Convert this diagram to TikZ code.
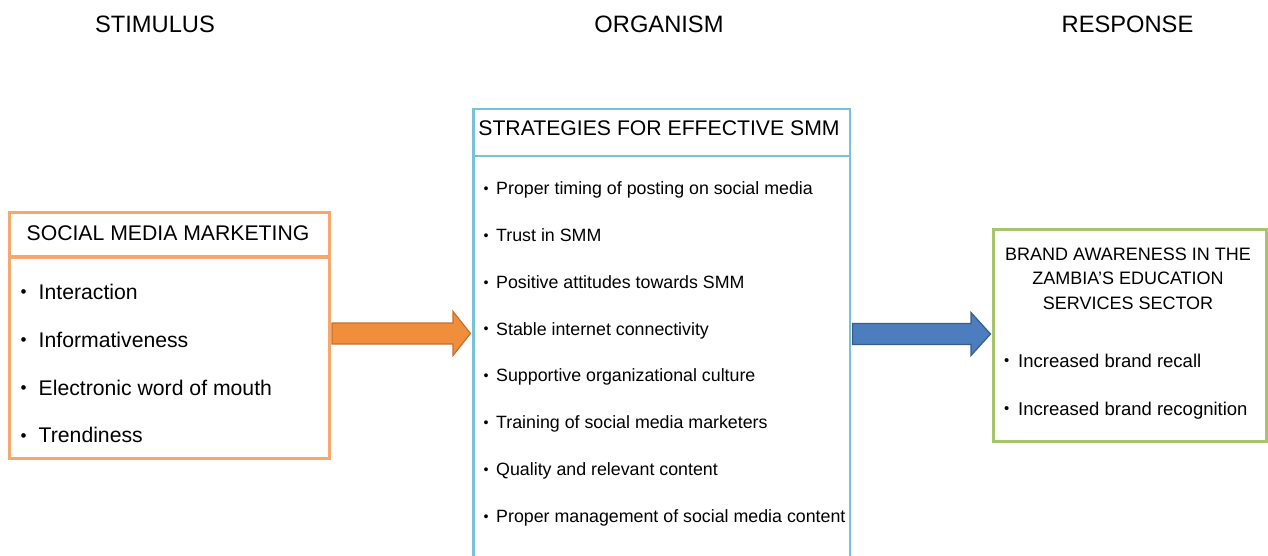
\documentclass[tikz,border=0pt]{standalone}
\usepackage{fontspec}
\setmainfont{Liberation Sans}
\usepackage{graphicx}
\usetikzlibrary{calc}

\definecolor{orangeline}{RGB}{246,168,108}
\definecolor{orangefill}{RGB}{240,142,60}
\definecolor{orangeedge}{RGB}{196,112,46}
\definecolor{blueline}{RGB}{120,194,216}
\definecolor{bluefill}{RGB}{76,125,190}
\definecolor{blueedge}{RGB}{56,93,138}
\definecolor{greenline}{RGB}{168,196,106}

% bullet glyph in a box of the given width, followed by the item text
\newcommand\bulleted[2]{\makebox[#1][l]{\raisebox{0.07em}{\scalebox{0.8}{•}}}#2}

\begin{document}
\begin{tikzpicture}[x=1pt,y=-1pt,
  colhead/.style={anchor=base,inner sep=0pt,font=\fontsize{23.7}{26}\selectfont},
  boxpart/.style={draw,line width=2.9pt,anchor=north west,inner sep=0pt},
  lefttitle/.style={anchor=base,inner sep=0pt,font=\fontsize{21.2}{24}\selectfont},
  leftitem/.style={anchor=base west,inner sep=0pt,font=\fontsize{21.2}{24}\selectfont},
  miditem/.style={anchor=base west,inner sep=0pt,font=\fontsize{17.8}{20}\selectfont},
  righttitle/.style={anchor=base,inner sep=0pt,font=\fontsize{18}{20}\selectfont},
  rightitem/.style={anchor=base west,inner sep=0pt,font=\fontsize{18.5}{20}\selectfont},
  fatarrow/.style={line width=1.2pt,line join=miter}
]
\useasboundingbox (0,0) rectangle (1268,555);

% column headings
\node[colhead] (stim) at (155,32) {STIMULUS};
\node[colhead] (org)  at (659,32) {ORGANISM};
\node[colhead] (resp) at (1127.5,32) {RESPONSE};

% stimulus box
\node[boxpart,draw=orangeline,minimum width=320pt,minimum height=44pt] (smmh) at (8,211) {};
\node[boxpart,draw=orangeline,minimum width=320pt,minimum height=201pt] (smmb) at (8,256) {};
\node[lefttitle] (smmt) at (168,240) {SOCIAL MEDIA MARKETING};
\node[leftitem] (s1) at (20.5,299) {\bulleted{18pt}{Interaction}};
\node[leftitem] (s2) at (20.5,347) {\bulleted{18pt}{Informativeness}};
\node[leftitem] (s3) at (20.5,395) {\bulleted{18pt}{Electronic word of mouth}};
\node[leftitem] (s4) at (20.5,442.5) {\bulleted{18pt}{Trendiness}};

% organism box (runs past the lower edge)
\node[boxpart,draw=blueline,minimum width=376.5pt,minimum height=47pt] (strh) at (472,107.5) {};
\node[boxpart,draw=blueline,minimum width=376.5pt,minimum height=430pt] (strb) at (472,154.5) {};
\node[lefttitle] (strt) at (659,135) {STRATEGIES FOR EFFECTIVE SMM};
\node[miditem] (m1) at (483.5,194.7) {\bulleted{12.5pt}{Proper timing of posting on social media}};
\node[miditem] (m2) at (483.5,241.5) {\bulleted{12.5pt}{Trust in SMM}};
\node[miditem] (m3) at (483.5,288.3) {\bulleted{12.5pt}{Positive attitudes towards SMM}};
\node[miditem] (m4) at (483.5,335.1) {\bulleted{12.5pt}{Stable internet connectivity}};
\node[miditem] (m5) at (483.5,381.9) {\bulleted{12.5pt}{Supportive organizational culture}};
\node[miditem] (m6) at (483.5,428.7) {\bulleted{12.5pt}{Training of social media marketers}};
\node[miditem] (m7) at (483.5,475.5) {\bulleted{12.5pt}{Quality and relevant content}};
\node[miditem] (m8) at (483.5,522.3) {\bulleted{12.5pt}{Proper management of social media content}};

% response box
\node[boxpart,draw=greenline,minimum width=273pt,minimum height=212pt] (brand) at (992,228) {};
\node[righttitle] (rt1) at (1128,260) {BRAND AWARENESS IN THE};
\node[righttitle] (rt2) at (1128,284.5) {ZAMBIA’S EDUCATION};
\node[righttitle] (rt3) at (1128,309) {SERVICES SECTOR};
\node[rightitem] (r1) at (1004,367) {\bulleted{14pt}{Increased brand recall}};
\node[rightitem] (r2) at (1004,415) {\bulleted{14pt}{Increased brand recognition}};

% block arrows between the boxes
\coordinate (oa) at (smmb.east |- 0,333.5);
\coordinate (ob) at (strb.west |- 0,333.5);
\draw[fatarrow,draw=orangeedge,fill=orangefill]
  ($(oa)+(1,-10.5)$) -- ($(ob)+(-19,-10.5)$) -- ($(ob)+(-19,-22)$) -- ($(ob)+(-1.5,0)$)
  -- ($(ob)+(-19,22)$) -- ($(ob)+(-19,10.5)$) -- ($(oa)+(1,10.5)$) -- cycle;

\coordinate (ba) at (strb.east |- 0,334);
\coordinate (bb) at (brand.west |- 0,334);
\draw[fatarrow,draw=blueedge,fill=bluefill]
  ($(ba)+(1,-10.5)$) -- ($(bb)+(-21,-10.5)$) -- ($(bb)+(-21,-21.5)$) -- ($(bb)+(-1.5,0)$)
  -- ($(bb)+(-21,21.5)$) -- ($(bb)+(-21,10.5)$) -- ($(ba)+(1,10.5)$) -- cycle;
\end{tikzpicture}
\end{document}
